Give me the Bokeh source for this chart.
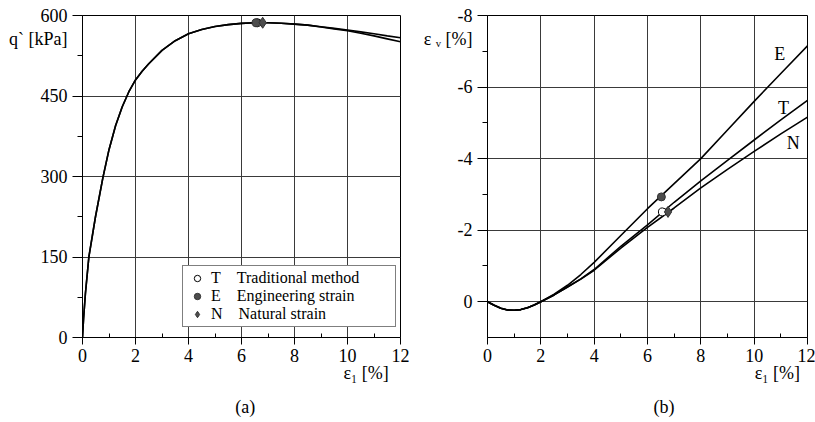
from bokeh.plotting import figure
from bokeh.layouts import row
from bokeh.models import Range1d, FixedTicker, Label, Legend, LegendItem, LinearAxis
from bokeh.embed import file_html
from bokeh.resources import INLINE

# ---------------- data: (a) deviator stress vs axial strain ----------------
eps_a = [0, 0.04, 0.11, 0.24, 0.49, 0.77, 1.0, 1.25, 1.5, 1.75, 2.0, 2.25, 2.5, 3.0, 3.5, 4.0, 4.5,
         5.0, 5.5, 6.0, 6.5, 7.0, 7.5, 8.0, 8.5, 9.0, 9.5, 10.0, 10.5, 11.0, 11.5, 12.0]
q_TE = [0, 35, 82, 150, 225, 298, 350, 395, 430, 458, 480, 496, 510, 535, 553, 566, 574,
        579.5, 583, 585.3, 586.5, 586.5, 585.5, 584, 582, 579, 576, 573, 569.5, 566, 562, 558.5]
q_N = [0, 35, 82, 150, 225, 298, 350, 395, 430, 458, 480, 496, 510, 535, 553, 566, 574,
       579.5, 583, 585.3, 586.5, 586.5, 585.5, 584, 582, 578.5, 575, 571.5, 567, 562, 556.5, 551]

# peak markers (a)
peak_eps = {"T": 6.6, "E": 6.55, "N": 6.8}
peak_q = {"T": 586.5, "E": 586.5, "N": 586.5}

# ---------------- data: (b) volumetric strain vs axial strain ----------------
eps_b = [0, 0.25, 0.5, 0.75, 1.0, 1.25, 1.5, 1.75, 2.0, 2.5, 3.0, 3.5, 4.0,
         5.0, 6.0, 7.0, 8.0, 9.0, 10.0, 11.0, 12.0]
ev_T = [0, 0.1, 0.18, 0.23, 0.24, 0.22, 0.17, 0.09, 0.0, -0.19, -0.41, -0.64, -0.9,
        -1.55, -2.15, -2.78, -3.38, -3.95, -4.52, -5.08, -5.63]
ev_E = [0, 0.1, 0.18, 0.23, 0.24, 0.22, 0.17, 0.09, 0.0, -0.21, -0.46, -0.76, -1.1,
        -1.85, -2.6, -3.3, -4.0, -4.8, -5.6, -6.38, -7.15]
ev_N = [0, 0.1, 0.18, 0.23, 0.24, 0.22, 0.17, 0.09, 0.0, -0.19, -0.41, -0.63, -0.88,
        -1.5, -2.08, -2.62, -3.18, -3.7, -4.2, -4.69, -5.16]

# markers (b) at peak stress
mark_eps = {"T": 6.56, "E": 6.52, "N": 6.77}
mark_ev = {"T": -2.51, "E": -2.93, "N": -2.51}

x_ticks = [0, 2, 4, 6, 8, 10, 12]
x_minor = [1, 3, 5, 7, 9, 11]
qa_ticks = [0, 150, 300, 450, 600]
qa_minor = [75, 225, 375, 525]
ev_ticks = [-8, -6, -4, -2, 0]
ev_minor = [-7, -5, -3, -1]

# axis-title texts and the axis positions where they sit
qa_title, qa_title_at = "q` [kPa]", 557
ev_title, ev_title_at = "ε ᵥ [%]", -7.35
xa_title, xa_title_at = "ε₁ [%]", 10.7
xb_title, xb_title_at = "ε₁ [%]", 10.87
cap_a, cap_a_at = "(a)", 6.14
cap_b, cap_b_at = "(b)", 6.62

FONT = "Liberation Serif"
FS = "18px"
GRID = "#3a3a3a"
MARK = "#4d4d4d"


def text_axis(ticks, labels, standoff):
    ax = LinearAxis(ticker=FixedTicker(ticks=ticks, minor_ticks=[]),
                    major_label_overrides={t: l for t, l in zip(ticks, labels)},
                    axis_line_color=None, major_tick_line_color=None,
                    minor_tick_line_color=None, major_tick_in=0, major_tick_out=0,
                    minor_tick_in=0, minor_tick_out=0,
                    major_label_standoff=standoff, major_label_text_font=FONT,
                    major_label_text_font_size=FS, major_label_text_color="black")
    return ax


def style(p, xt, xm, yt, ym):
    p.outline_line_color = "black"
    p.outline_line_width = 1
    p.background_fill_color = "white"
    p.border_fill_color = "white"
    p.grid.grid_line_color = GRID
    p.grid.grid_line_width = 1
    p.axis.axis_line_color = "black"
    p.axis.major_tick_line_color = "black"
    p.axis.minor_tick_line_color = "black"
    # x axis: ticks + numbers
    p.xaxis.ticker = FixedTicker(ticks=xt, minor_ticks=xm)
    p.xaxis.major_label_text_font = FONT
    p.xaxis.major_label_text_font_size = FS
    p.xaxis.major_label_text_color = "black"
    p.xaxis.major_tick_out = 7
    p.xaxis.major_tick_in = 0
    p.xaxis.minor_tick_in = 4
    p.xaxis.minor_tick_out = 0
    p.xaxis.major_label_standoff = 4
    # y axis: tick marks only (numbers drawn by an outer text axis)
    p.yaxis.ticker = FixedTicker(ticks=yt, minor_ticks=ym)
    p.yaxis.major_label_overrides = {t: "" for t in yt}
    p.yaxis.major_label_text_font_size = "0px"
    p.yaxis.major_label_standoff = 0
    p.yaxis.major_tick_out = 10
    p.yaxis.major_tick_in = 0
    p.yaxis.minor_tick_out = 5
    p.yaxis.minor_tick_in = 0


def lab(p, x, y, text):
    p.add_layout(Label(x=x, y=y, text=text, text_font=FONT, text_font_size=FS,
                       text_align="center", text_baseline="middle", text_color="black"))


# ---------------- panel (a) ----------------
pa = figure(width=410, height=422, output_backend="svg", toolbar_location=None,
            x_range=Range1d(0, 12), y_range=Range1d(0, 600),
            min_border_left=82, min_border_right=10, min_border_top=15, min_border_bottom=85)
style(pa, x_ticks, x_minor, qa_ticks, qa_minor)
pa.add_layout(text_axis(qa_ticks + [qa_title_at],
                        [str(t) for t in qa_ticks] + [qa_title], 5), "left")
pa.add_layout(text_axis([xa_title_at], [xa_title], -2), "below")
pa.add_layout(text_axis([cap_a_at], [cap_a], 11), "below")

pa.line(eps_a, q_N, line_color="black", line_width=1.6)
pa.line(eps_a, q_TE, line_color="black", line_width=1.6)

rT = pa.scatter([peak_eps["T"]], [peak_q["T"]], marker="circle", size=8,
                fill_color="white", line_color="black", line_width=1)
rE = pa.scatter([peak_eps["E"]], [peak_q["E"]], marker="circle", size=8,
                fill_color=MARK, line_color="#333333", line_width=1)
rN = pa.scatter([peak_eps["N"]], [peak_q["N"]], marker="diamond", size=11,
                fill_color=MARK, line_color="#333333", line_width=1)

legend = Legend(items=[
    LegendItem(label="T\u2003Traditional method", renderers=[rT]),
    LegendItem(label="E\u2003Engineering strain", renderers=[rE]),
    LegendItem(label="N\u2003Natural strain", renderers=[rN]),
], location=(100, 10), padding=3, spacing=0, glyph_width=22, glyph_height=16,
    label_height=16, label_standoff=3, label_width=181,
    label_text_font=FONT, label_text_font_size="16px", label_text_color="black",
    label_text_line_height=1.0,
    border_line_color="black", border_line_width=1,
    background_fill_color="white", background_fill_alpha=1.0, margin=0)
pa.add_layout(legend, "center")

# ---------------- panel (b) ----------------
pb = figure(width=405, height=422, output_backend="svg", toolbar_location=None,
            x_range=Range1d(0, 12), y_range=Range1d(1, -8),
            min_border_left=77, min_border_right=8, min_border_top=15, min_border_bottom=85)
style(pb, x_ticks, x_minor, ev_ticks, ev_minor)
pb.add_layout(text_axis(ev_ticks + [ev_title_at],
                        [str(t) for t in ev_ticks] + [ev_title], 5), "left")
pb.add_layout(text_axis([xb_title_at], [xb_title], -2), "below")
pb.add_layout(text_axis([cap_b_at], [cap_b], 11), "below")

pb.line(eps_b, ev_E, line_color="black", line_width=1.6)
pb.line(eps_b, ev_T, line_color="black", line_width=1.6)
pb.line(eps_b, ev_N, line_color="black", line_width=1.6)

pb.scatter([mark_eps["T"]], [mark_ev["T"]], marker="circle", size=8,
           fill_color="white", line_color="black", line_width=1)
pb.scatter([mark_eps["E"]], [mark_ev["E"]], marker="circle", size=8,
           fill_color=MARK, line_color="#333333", line_width=1)
pb.scatter([mark_eps["N"]], [mark_ev["N"]], marker="diamond", size=11,
           fill_color=MARK, line_color="#333333", line_width=1)

lab(pb, 10.96, -6.92, "E")
lab(pb, 11.1, -5.42, "T")
lab(pb, 11.47, -4.43, "N")

layout = row(pa, pb)
open("out.html", "w").write(file_html(layout, INLINE))
